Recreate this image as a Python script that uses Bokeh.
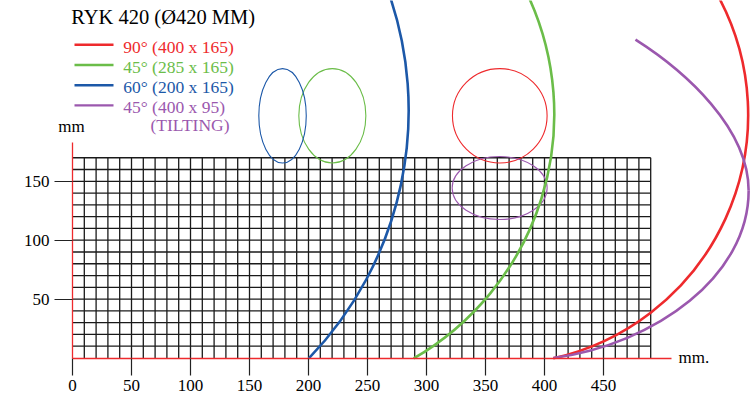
from bokeh.plotting import figure
from bokeh.models import Range1d, LinearAxis, FixedTicker, Label
from bokeh.embed import file_html
from bokeh.resources import INLINE

# ---------------- data ----------------
title_text = "RYK 420 (Ø420 MM)"
series_names = ["90° (400 x 165)", "45° (285 x 165)", "60° (200 x 165)", "45° (400 x 95)"]
series_note = "(TILTING)"
series_colors = ["#ee2a2d", "#6bbd49", "#1c58a8", "#9b58ae"]

x_ticks = [0, 50, 100, 150, 200, 250, 300, 350, 400, 450]
y_ticks = [50, 100, 150]
grid_x = [10, 20, 30, 40, 50, 60, 70, 80, 90, 100, 110, 120, 130, 140, 150, 160, 170, 180, 190, 200,
          210, 220, 230, 240, 250, 260, 270, 280, 290, 300, 310, 320, 330, 340, 350, 360, 370, 380, 390,
          400, 410, 420, 430, 440, 450, 460, 470, 480, 490]
grid_y = [10, 20, 30, 40, 50, 60, 70, 80, 90, 100, 110, 120, 130, 140, 150, 160, 170]
x_axis_end = 508
y_axis_end = 183

# capacity arcs (red 90°, green 45°, blue 60°): circle centre, radius, angles (deg)
arc_cx = [361.0, 169.2, -18.0]
arc_cy = [206.5, 206.8, 210.0]
arc_r = [211.6, 239.1, 302.9]
arc_start = [-77.3, -59.9, -43.9]
arc_end = [28.0, 25.0, 20.0]

# tilting capacity curve (purple), two cubic segments
tilt_x0 = [477.1, 573.0]
tilt_y0 = [270.3, 142.0]
tilt_cx0 = [520.0, 573.0]
tilt_cy0 = [243.0, 70.0]
tilt_cx1 = [573.0, 495.0]
tilt_cy1 = [195.0, 12.0]
tilt_x1 = [573.0, 407.4]
tilt_y1 = [142.0, 0.0]

# section shapes (red, green, blue, purple)
ell_x = [362.1, 220.2, 178.0, 362.0]
ell_y = [205.6, 205.6, 205.6, 144.3]
ell_w = [80.2, 56.8, 40.2, 80.5]
ell_h = [80.2, 80.2, 80.2, 53.5]

# ---------------- layout helpers ----------------
W, H = 753, 394
SX, SY = 1.18, 1.178
OX, OY = 72, 357.5   # data origin in canvas pixels


def X(px):
    return (px - OX) / SX


def Y(py):
    return (OY - py) / SY


FONT = "Liberation Serif"

p = figure(width=W, height=H,
           x_range=Range1d(-OX / SX, (W - OX) / SX),
           y_range=Range1d(-(H - OY) / SY, OY / SY),
           output_backend="svg", toolbar_location=None,
           x_axis_location=None, y_axis_location=None, min_border=0)
p.outline_line_color = None
p.xgrid.visible = False
p.ygrid.visible = False
p.background_fill_color = "white"
p.border_fill_color = "white"

grid_top = max(grid_y)
grid_right = max(grid_x)

# grid
p.segment(x0=grid_x, y0=[0] * len(grid_x), x1=grid_x, y1=[grid_top] * len(grid_x),
          line_color="#1a1a1a", line_width=1.3)
p.segment(x0=[0] * len(grid_y), y0=grid_y, x1=[grid_right] * len(grid_y), y1=grid_y,
          line_color="#1a1a1a", line_width=1.3)

# section shapes
p.ellipse(x=ell_x, y=ell_y, width=ell_w, height=ell_h, fill_color=None,
          line_color=series_colors, line_width=1.1)

# capacity arcs
p.arc(x=arc_cx, y=arc_cy, radius=arc_r, start_angle=arc_start, end_angle=arc_end,
      start_angle_units="deg", end_angle_units="deg", direction="anticlock",
      line_color=series_colors[:3], line_width=2.6)

# tilting curve
p.bezier(x0=tilt_x0, y0=tilt_y0, x1=tilt_x1, y1=tilt_y1,
         cx0=tilt_cx0, cy0=tilt_cy0, cx1=tilt_cx1, cy1=tilt_cy1,
         line_color=series_colors[3], line_width=2.6)

# axes
red = series_colors[0]
xaxis = LinearAxis(fixed_location=0, ticker=FixedTicker(ticks=x_ticks), bounds=(0, x_axis_end),
                   axis_line_color=red, axis_line_width=1.3,
                   major_tick_line_color="#222222", major_tick_line_width=1.2,
                   major_tick_out=17, major_tick_in=0, minor_tick_line_color=None,
                   major_label_text_font=FONT, major_label_text_font_size="17px",
                   major_label_text_color="black", major_label_standoff=5)
yaxis = LinearAxis(fixed_location=0, ticker=FixedTicker(ticks=y_ticks), bounds=(0, y_axis_end),
                   axis_line_color=red, axis_line_width=1.3,
                   major_tick_line_color="#222222", major_tick_line_width=1.2,
                   major_tick_out=18, major_tick_in=0, minor_tick_line_color=None,
                   major_label_text_font=FONT, major_label_text_font_size="17px",
                   major_label_text_color="black", major_label_standoff=5)
p.add_layout(xaxis, "below")
p.add_layout(yaxis, "left")

# axis unit labels
p.add_layout(Label(x=X(71), y=Y(125.5), text="mm", text_font=FONT, text_font_size="17px",
                   text_align="center", text_baseline="alphabetic", text_color="black"))
p.add_layout(Label(x=X(678), y=Y(356.5), text="mm.", text_font=FONT, text_font_size="17px",
                   text_align="left", text_baseline="alphabetic", text_color="black"))

# title
p.add_layout(Label(x=X(70.7), y=Y(16), text=title_text, text_font=FONT, text_font_size="20.5px",
                   text_align="left", text_baseline="alphabetic", text_color="black"))

# legend
for i, (name, color) in enumerate(zip(series_names, series_colors)):
    ly = 44.3 + 20.2 * i
    p.segment(x0=[X(74)], y0=[Y(ly)], x1=[X(113)], y1=[Y(ly)], line_color=color, line_width=2.4)
    p.add_layout(Label(x=X(122.7), y=Y(ly + 1.8), text=name, text_font=FONT, text_font_size="17.5px",
                       text_align="left", text_baseline="alphabetic", text_color=color))
p.add_layout(Label(x=X(150), y=Y(124.8), text=series_note, text_font=FONT, text_font_size="17.5px",
                   text_align="left", text_baseline="alphabetic", text_color=series_colors[3]))

open("out.html", "w").write(file_html(p, INLINE))
